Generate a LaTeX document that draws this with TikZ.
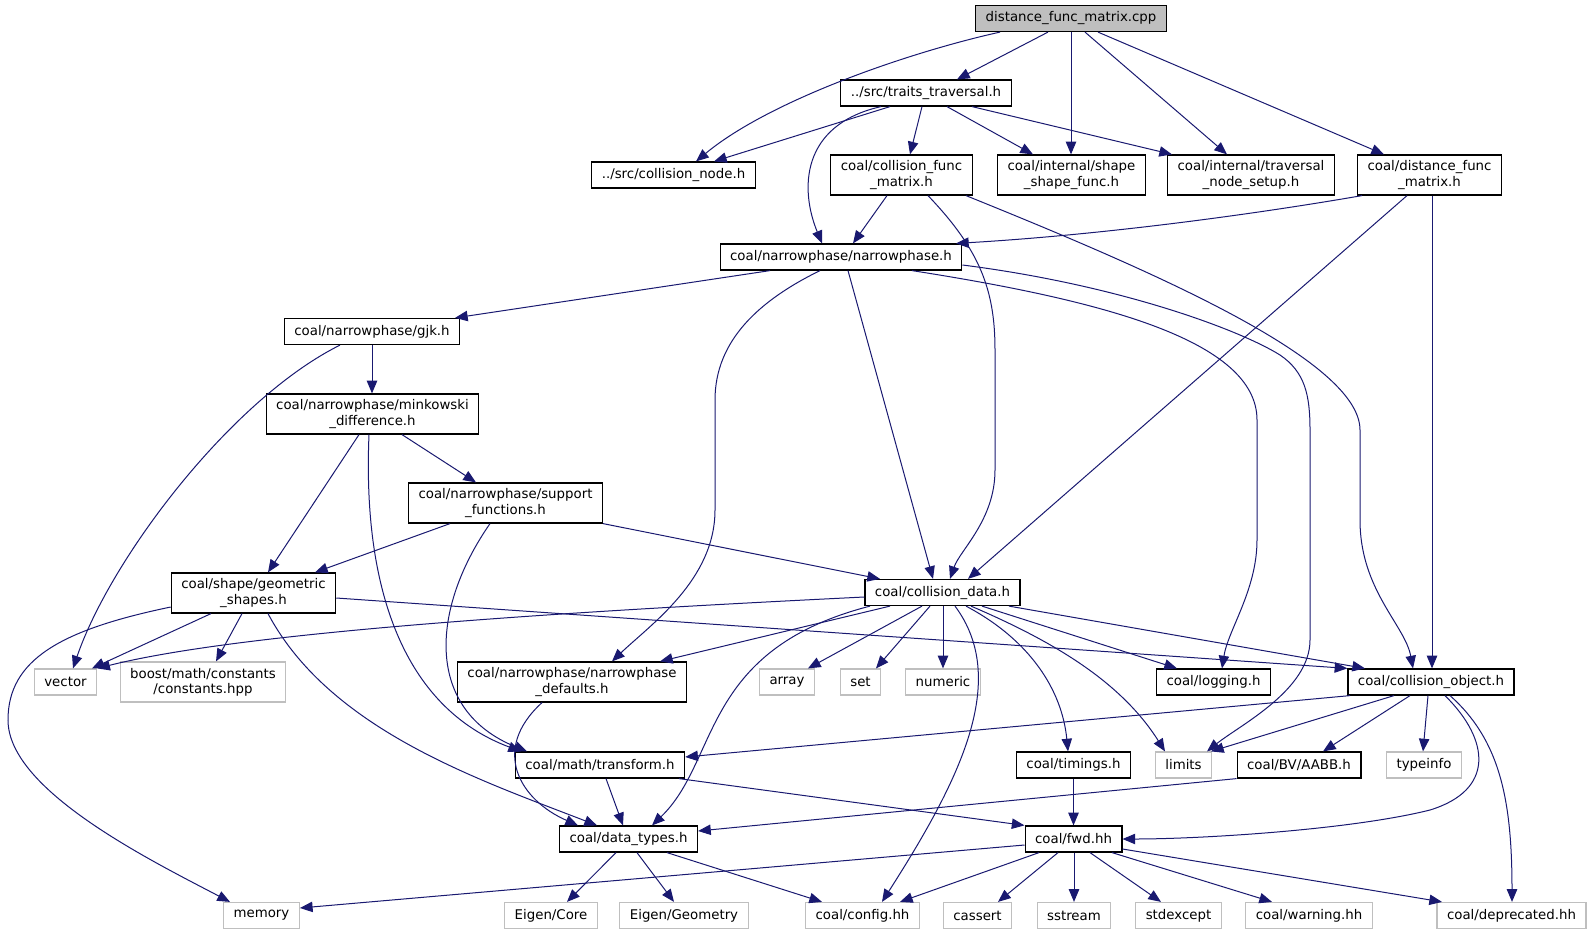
\documentclass[tikz,border=0pt]{standalone}
\usepackage{fontspec}
\setmainfont{DejaVu Sans}
\usetikzlibrary{arrows.meta,calc}
\definecolor{edgecol}{HTML}{191970}
\definecolor{grey75}{HTML}{BFBFBF}
\begin{document}
\begin{tikzpicture}[x=0.75pt,y=-0.75pt,font=\fontsize{10pt}{11.5pt}\selectfont,
  hdr/.style={draw=black, line width=0.9pt, fill=white, inner xsep=7.5pt, inner ysep=0pt, minimum height=19.5pt, align=center, text=black},
  hdr2/.style={hdr, minimum height=30pt},
  sys/.style={hdr, draw=grey75},
  sys2/.style={hdr2, draw=grey75},
  mainfile/.style={hdr, fill=grey75},
  dep/.style={draw=edgecol, line width=0.75pt, -{Triangle[length=9.5pt,width=7.8pt]}}]
\useasboundingbox (0,0) rectangle (1588,932);
% nodes
\node[mainfile] (cpp) at (1071,18.5) {distance\_func\_matrix.cpp};
\node[hdr] (traits) at (926,93) {../src/traits\_traversal.h};
\node[hdr] (collnode) at (673.5,175) {../src/collision\_node.h};
\node[hdr2] (cfm) at (901.5,175) {coal/collision\_func\\\_matrix.h};
\node[hdr2] (ssf) at (1071.5,175) {coal/internal/shape\\\_shape\_func.h};
\node[hdr2] (tns) at (1251,175) {coal/internal/traversal\\\_node\_setup.h};
\node[hdr2] (dfm) at (1429.5,175) {coal/distance\_func\\\_matrix.h};
\node[hdr] (narrow) at (841,257) {coal/narrowphase/narrowphase.h};
\node[hdr] (gjk) at (372,331.5) {coal/narrowphase/gjk.h};
\node[hdr2] (mink) at (372.5,414) {coal/narrowphase/minkowski\\\_difference.h};
\node[hdr2] (supp) at (505.5,503) {coal/narrowphase/support\\\_functions.h};
\node[hdr2] (geom) at (253.5,593) {coal/shape/geometric\\\_shapes.h};
\node[hdr] (cdata) at (942.5,592.5) {coal/collision\_data.h};
\node[sys] (vector) at (65.5,682) {vector};
\node[sys2] (boost) at (203,682) {boost/math/constants\\/constants.hpp};
\node[hdr2] (nd) at (572,682) {coal/narrowphase/narrowphase\\\_defaults.h};
\node[sys] (array) at (787,682) {array};
\node[sys] (set) at (860.5,682) {set};
\node[sys] (numeric) at (943,682) {numeric};
\node[hdr] (logging) at (1213.5,682) {coal/logging.h};
\node[hdr] (cobj) at (1431,682) {coal/collision\_object.h};
\node[hdr] (transform) at (600,765) {coal/math/transform.h};
\node[hdr] (timings) at (1073.5,765) {coal/timings.h};
\node[sys] (limits) at (1183.5,765) {limits};
\node[hdr] (aabb) at (1299,765) {coal/BV/AABB.h};
\node[sys] (typeinfo) at (1424,765) {typeinfo};
\node[hdr] (dtypes) at (628.5,839) {coal/data\_types.h};
\node[hdr] (fwd) at (1073.5,839) {coal/fwd.hh};
\node[sys] (memory) at (261.5,915.5) {memory};
\node[sys] (eigencore) at (551,915.5) {Eigen/Core};
\node[sys] (eigengeo) at (684,915.5) {Eigen/Geometry};
\node[sys] (config) at (862.5,915.5) {coal/config.hh};
\node[sys] (cassert) at (977.5,915.5) {cassert};
\node[sys] (sstream) at (1074,915.5) {sstream};
\node[sys] (stdexcept) at (1178.5,915.5) {stdexcept};
\node[sys] (warning) at (1309,915.5) {coal/warning.hh};
\node[sys] (deprecated) at (1511.5,915.5) {coal/deprecated.hh};
% edges from cpp
\draw[dep] (1000,0 |- cpp.south) .. controls (910,52) and (770,100) .. (696,0 |- collnode.north);
\draw[dep] (1048,0 |- cpp.south) -- (957,0 |- traits.north);
\draw[dep] (1071,0 |- cpp.south) -- (1071,0 |- ssf.north);
\draw[dep] (1085,0 |- cpp.south) -- (1227,0 |- tns.north);
\draw[dep] (1098,0 |- cpp.south) -- (1384,0 |- dfm.north);
% traits
\draw[dep] (890,0 |- traits.south) -- (714,0 |- collnode.north);
\draw[dep] (881,0 |- traits.south) .. controls (800,125) and (800,190) .. (822,0 |- narrow.north);
\draw[dep] (922,0 |- traits.south) -- (910,0 |- cfm.north);
\draw[dep] (947,0 |- traits.south) -- (1033,0 |- ssf.north);
\draw[dep] (972,0 |- traits.south) -- (1172,0 |- tns.north);
% cfm
\draw[dep] (887,0 |- cfm.south) -- (853,0 |- narrow.north);
\draw[dep] (928,0 |- cfm.south) .. controls (980,250) and (995,290) .. (995,350) -- (995,470) .. controls (995,520) and (960,550) .. (950,0 |- cdata.north);
\draw[dep] (966,0 |- cfm.south) .. controls (1150,270) and (1360,360) .. (1360,430) -- (1360,520) .. controls (1360,590) and (1405,625) .. (1413,0 |- cobj.north);
% dfm
\draw[dep] (1362,0 |- dfm.south) .. controls (1250,215) and (1100,235) .. (956,0 |- narrow.north);
\draw[dep] (1407,0 |- dfm.south) -- (968,0 |- cdata.north);
\draw[dep] (1432,0 |- dfm.south) -- (1432,0 |- cobj.north);
% narrow
\draw[dep] (770,0 |- narrow.south) -- (455,0 |- gjk.north);
\draw[dep] (820,0 |- narrow.south) .. controls (760,300) and (715,340) .. (715,400) -- (715,510) .. controls (715,580) and (650,625) .. (612,0 |- nd.north);
\draw[dep] (848,0 |- narrow.south) -- (933,0 |- cdata.north);
\draw[dep] (912,0 |- narrow.south) .. controls (1100,300) and (1257,340) .. (1257,420) -- (1257,540) .. controls (1257,590) and (1228,630) .. (1222,0 |- logging.north);
\draw[dep] (narrow.east |- 0,265) .. controls (1120,285) and (1240,330) .. (1280,355) .. controls (1305,372) and (1310,395) .. (1310,430) -- (1310,640) .. controls (1310,690) and (1240,725) .. (1207,0 |- limits.north);
% gjk
\draw[dep] (340,0 |- gjk.south) .. controls (230,400) and (110,560) .. (73,0 |- vector.north);
\draw[dep] (372,0 |- gjk.south) -- (372,0 |- mink.north);
% mink
\draw[dep] (359,0 |- mink.south) -- (268,0 |- geom.north);
\draw[dep] (369,0 |- mink.south) .. controls (362,600) and (410,710) .. (521,0 |- transform.north);
\draw[dep] (402,0 |- mink.south) -- (476,0 |- supp.north);
% supp
\draw[dep] (450,0 |- supp.south) -- (315,0 |- geom.north);
\draw[dep] (490,0 |- supp.south) .. controls (430,610) and (425,710) .. (527,0 |- transform.north);
\draw[dep] (supp.south east) -- (880,0 |- cdata.north);
% geom
\draw[dep] (211,0 |- geom.south) -- (92,0 |- vector.north);
\draw[dep] (242,0 |- geom.south) -- (216,0 |- boost.north);
\draw[dep] (geom.west |- 0,607) .. controls (60,630) and (8,660) .. (8,720) .. controls (8,790) and (150,860) .. (230,0 |- memory.north);
\draw[dep] (268,0 |- geom.south) .. controls (330,730) and (480,780) .. (597,0 |- dtypes.north);
\draw[dep] (geom.east |- 0,598) -- (cobj.north west);
% cdata
\draw[dep] (cdata.west |- 0,597) .. controls (600,610) and (250,630) .. (vector.north east);
\draw[dep] (890,0 |- cdata.south) -- (660,0 |- nd.north);
\draw[dep] (870,0 |- cdata.south) .. controls (700,650) and (720,760) .. (652,0 |- dtypes.north);
\draw[dep] (922,0 |- cdata.south) -- (808,0 |- array.north);
\draw[dep] (930,0 |- cdata.south) -- (876,0 |- set.north);
\draw[dep] (943,0 |- cdata.south) -- (943,0 |- numeric.north);
\draw[dep] (955,0 |- cdata.south) .. controls (1010,680) and (960,780) .. (882,0 |- config.north);
\draw[dep] (966,0 |- cdata.south) .. controls (1030,640) and (1062,690) .. (1068,0 |- timings.north);
\draw[dep] (971,0 |- cdata.south) .. controls (1050,640) and (1120,680) .. (1165,0 |- limits.north);
\draw[dep] (982,0 |- cdata.south) -- (1177,0 |- logging.north);
\draw[dep] (1009,0 |- cdata.south) -- (1365,0 |- cobj.north);
% nd
\draw[dep] (542,0 |- nd.south) .. controls (490,750) and (520,800) .. (578,0 |- dtypes.north);
% cobj
\draw[dep] (1350,0 |- cobj.south) -- (transform.east |- 0,757);
\draw[dep] (1394,0 |- cobj.south) -- (1211,0 |- limits.north);
\draw[dep] (1410,0 |- cobj.south) -- (1323,0 |- aabb.north);
\draw[dep] (1428,0 |- cobj.south) -- (1423,0 |- typeinfo.north);
\draw[dep] (1445,0 |- cobj.south) .. controls (1490,740) and (1495,790) .. (1430,810) .. controls (1350,830) and (1200,839) .. (fwd.east);
\draw[dep] (1450,0 |- cobj.south) .. controls (1500,740) and (1512,800) .. (1512,0 |- deprecated.north);
% transform
\draw[dep] (606,0 |- transform.south) -- (623,0 |- dtypes.north);
\draw[dep] (679,0 |- transform.south) -- (fwd.north west);
% timings
\draw[dep] (timings.south) -- (fwd.north);
% aabb
\draw[dep] (aabb.south west) -- (dtypes.east |- 0,831);
% dtypes
\draw[dep] (616,0 |- dtypes.south) -- (567,0 |- eigencore.north);
\draw[dep] (637,0 |- dtypes.south) -- (674,0 |- eigengeo.north);
\draw[dep] (667,0 |- dtypes.south) -- (822,0 |- config.north);
% fwd
\draw[dep] (fwd.west |- 0,845) -- (memory.east |- 0,908);
\draw[dep] (1039,0 |- fwd.south) -- (900,0 |- config.north);
\draw[dep] (1058,0 |- fwd.south) -- (998,0 |- cassert.north);
\draw[dep] (1074,0 |- fwd.south) -- (1074,0 |- sstream.north);
\draw[dep] (1090,0 |- fwd.south) -- (1161,0 |- stdexcept.north);
\draw[dep] (1112,0 |- fwd.south) -- (1272,0 |- warning.north);
\draw[dep] (fwd.east |- 0,849) -- (1442,0 |- deprecated.north);
\end{tikzpicture}
\end{document}
